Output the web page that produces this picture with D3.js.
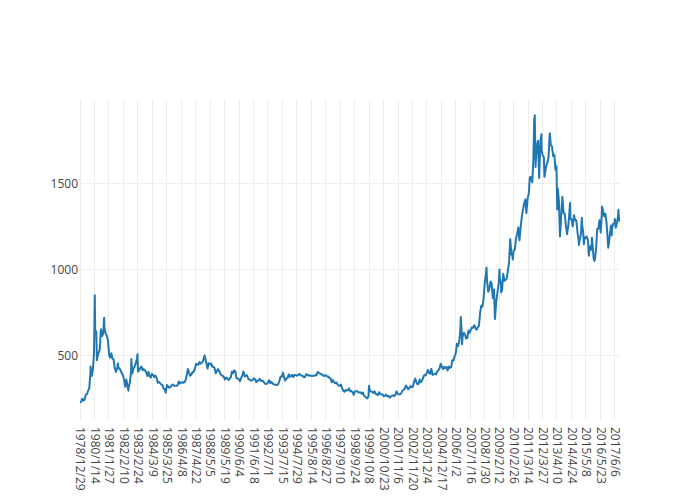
<!DOCTYPE html>
<html><head><meta charset="utf-8">
<script src="https://cdn.jsdelivr.net/npm/d3@7"></script>
<style>body{margin:0;background:#fff}text{font-family:"Open Sans",sans-serif}</style>
</head><body><svg id="chart" width="700" height="500"></svg>
<script>
const tickLabels = ["1978/12/29","1980/1/14","1981/1/27","1982/2/10","1983/2/24","1984/3/9","1985/3/25","1986/4/8","1987/4/22","1988/5/5","1989/5/19","1990/6/4","1991/6/18","1992/7/1","1993/7/15","1994/7/29","1995/8/14","1996/8/27","1997/9/10","1998/9/24","1999/10/8","2000/10/23","2001/11/6","2002/11/20","2003/12/4","2004/12/17","2006/1/2","2007/1/16","2008/1/30","2009/2/12","2010/2/26","2011/3/14","2012/3/27","2013/4/10","2014/4/24","2015/5/8","2016/5/23","2017/6/6"];
const yTicks = [500, 1000, 1500];
const goldSeries = [
["1978-12-29",226],["1979-01-31",233.7],["1979-02-28",251.3],["1979-03-30",240.1],["1979-04-30",245.3],["1979-05-31",274.6],["1979-06-29",277.5],["1979-07-31",296.5],["1979-08-31",315.1],["1979-09-28",397.3],["1979-10-02",437],["1979-10-31",382],["1979-11-30",415.7],["1979-12-31",512],
["1980-01-21",850],["1980-01-31",653],["1980-02-29",637],["1980-03-18",474],["1980-03-31",494.5],["1980-04-30",518],["1980-05-30",535],["1980-06-30",653],["1980-07-31",614],["1980-08-29",631],["1980-09-22",720],["1980-09-30",666],["1980-10-31",629],["1980-11-28",619],["1980-12-31",589.75],
["1981-01-30",506.5],["1981-02-27",489],["1981-03-31",513.75],["1981-04-30",482.75],["1981-05-29",479.25],["1981-06-30",426],["1981-07-31",406],["1981-08-31",425],["1981-09-18",455],["1981-09-30",428.75],["1981-10-30",427],["1981-11-30",414.5],["1981-12-31",397.5],
["1982-01-29",387],["1982-02-26",362.6],["1982-03-31",320],["1982-04-30",361.25],["1982-05-28",325.25],["1982-06-21",297],["1982-06-30",317.5],["1982-07-30",342.9],["1982-08-31",411.5],["1982-09-07",481],["1982-09-30",397],["1982-10-29",423.25],["1982-11-30",436],["1982-12-31",456.9],
["1983-01-31",481],["1983-02-15",509],["1983-02-28",408.5],["1983-03-31",414.75],["1983-04-29",429.25],["1983-05-31",437.5],["1983-06-30",416],["1983-07-29",422],["1983-08-31",414.25],["1983-09-30",405],["1983-10-31",382],["1983-11-30",405],["1983-12-30",381.5],
["1984-01-31",373.75],["1984-02-29",394.25],["1984-03-30",388.5],["1984-04-30",375.8],["1984-05-31",384.25],["1984-06-29",373.75],["1984-07-31",342.4],["1984-08-31",348.25],["1984-09-28",341.15],["1984-10-31",333.25],["1984-11-30",329],["1984-12-31",309],
["1985-01-31",306.5],["1985-02-25",285],["1985-03-29",329.75],["1985-04-30",321.4],["1985-05-31",314],["1985-06-28",317.75],["1985-07-31",327.5],["1985-08-30",333.25],["1985-09-30",326.5],["1985-10-31",325.1],["1985-11-29",325.3],["1985-12-31",326.8],
["1986-01-31",350.5],["1986-02-28",338.15],["1986-03-31",344],["1986-04-30",345.75],["1986-05-30",343.2],["1986-06-30",345.75],["1986-07-31",357.5],["1986-08-29",384.7],["1986-09-30",423.2],["1986-10-31",401],["1986-11-28",383.5],["1986-12-31",391],
["1987-01-30",405.5],["1987-02-27",405.9],["1987-03-31",421.1],["1987-04-30",451.3],["1987-05-29",451],["1987-06-30",447.3],["1987-07-31",462.5],["1987-08-31",453.4],["1987-09-30",459.5],["1987-10-30",466.8],["1987-11-30",492.5],["1987-12-14",502],["1987-12-31",484.1],
["1988-01-29",458],["1988-02-29",426.15],["1988-03-31",456.95],["1988-04-29",449],["1988-05-31",455.5],["1988-06-30",436.55],["1988-07-29",436.8],["1988-08-31",427.75],["1988-09-30",397.7],["1988-10-31",412.4],["1988-11-30",422.6],["1988-12-30",410.15],
["1989-01-31",394],["1989-02-28",387],["1989-03-31",383.2],["1989-04-28",377.6],["1989-05-31",361.8],["1989-06-30",373],["1989-07-31",368.3],["1989-08-31",359.8],["1989-09-29",366.5],["1989-10-31",375.3],["1989-11-30",408.15],["1989-12-29",398.6],
["1990-01-31",415.1],["1990-02-28",407.7],["1990-03-30",368.5],["1990-04-30",367.75],["1990-05-31",363.05],["1990-06-29",352.2],["1990-07-31",372.3],["1990-08-31",387.75],["1990-09-28",408.35],["1990-10-31",379.5],["1990-11-30",384.85],["1990-12-31",386.2],
["1991-01-31",366],["1991-02-28",362.7],["1991-03-29",355.65],["1991-04-30",357.75],["1991-05-31",360.4],["1991-06-28",368.4],["1991-07-31",362.95],["1991-08-30",347.4],["1991-09-30",354.9],["1991-10-31",357.45],["1991-11-29",366.3],["1991-12-31",353.15],
["1992-01-31",354.1],["1992-02-28",353.1],["1992-03-31",341.7],["1992-04-30",336.4],["1992-05-29",337.5],["1992-06-30",343.4],["1992-07-31",357.8],["1992-08-31",340.2],["1992-09-30",349],["1992-10-30",339.25],["1992-11-30",334.2],["1992-12-31",333],
["1993-01-29",329.45],["1993-02-26",329.35],["1993-03-31",337.8],["1993-04-30",354.3],["1993-05-28",377.45],["1993-06-30",378.5],["1993-07-30",401.8],["1993-08-31",371.6],["1993-09-30",355.5],["1993-10-29",369.6],["1993-11-30",370.9],["1993-12-31",391.75],
["1994-01-31",377.9],["1994-02-28",381.6],["1994-03-31",389.2],["1994-04-29",376.45],["1994-05-31",387.6],["1994-06-30",388.25],["1994-07-29",384],["1994-08-31",385.75],["1994-09-30",394.85],["1994-10-31",389.1],["1994-11-30",383.1],["1994-12-30",383.25],
["1995-01-31",374.9],["1995-02-28",376.4],["1995-03-31",392],["1995-04-28",389.75],["1995-05-31",384.3],["1995-06-30",387.05],["1995-07-31",383.35],["1995-08-31",382.35],["1995-09-29",383.35],["1995-10-31",383.15],["1995-11-30",387.8],["1995-12-29",387],
["1996-01-31",405.55],["1996-02-29",400.65],["1996-03-29",396.35],["1996-04-30",391.5],["1996-05-31",390.6],["1996-06-28",382],["1996-07-31",385.3],["1996-08-30",386.45],["1996-09-30",379],["1996-10-31",379.5],["1996-11-29",371.3],["1996-12-31",369.25],
["1997-01-31",345.5],["1997-02-28",358.6],["1997-03-31",348.2],["1997-04-30",340.15],["1997-05-30",345.6],["1997-06-30",334.6],["1997-07-31",326.4],["1997-08-29",325.4],["1997-09-30",332.1],["1997-10-31",311.4],["1997-11-28",296.8],["1997-12-31",290.2],
["1998-01-30",301.3],["1998-02-27",297.4],["1998-03-31",301],["1998-04-30",310.7],["1998-05-29",293.6],["1998-06-30",296.3],["1998-07-31",288.9],["1998-08-31",273.4],["1998-09-30",293.85],["1998-10-30",292.3],["1998-11-30",294.7],["1998-12-31",287.8],
["1999-01-29",287.1],["1999-02-26",287.33],["1999-03-31",279.45],["1999-04-30",286.6],["1999-05-28",268.6],["1999-06-30",261.3],["1999-07-30",255.6],["1999-08-25",252.6],["1999-09-24",265.5],["1999-09-30",299],["1999-10-05",325.5],["1999-10-29",299.1],["1999-11-30",291.4],["1999-12-31",290.25],
["2000-01-31",283.3],["2000-02-29",293.65],["2000-03-31",278.4],["2000-04-28",275.1],["2000-05-31",272.25],["2000-06-30",288.15],["2000-07-31",276.75],["2000-08-31",277],["2000-09-29",273.65],["2000-10-31",264.5],["2000-11-30",269.1],["2000-12-29",274.45],
["2001-01-31",264.5],["2001-02-28",266.7],["2001-03-30",257.7],["2001-04-02",255.95],["2001-04-30",263.15],["2001-05-31",267.5],["2001-06-29",270.6],["2001-07-31",265.9],["2001-08-31",273],["2001-09-28",293.1],["2001-10-31",278.75],["2001-11-30",275.5],["2001-12-31",276.5],
["2002-01-31",282.3],["2002-02-28",296.85],["2002-03-28",301.4],["2002-04-30",308.2],["2002-05-31",326.6],["2002-06-28",318.5],["2002-07-31",304.65],["2002-08-30",312.8],["2002-09-30",323.7],["2002-10-31",316.9],["2002-11-29",319.05],["2002-12-31",347.2],
["2003-01-31",367.5],["2003-02-28",347.45],["2003-03-31",334.85],["2003-04-30",336.75],["2003-05-30",361.4],["2003-06-30",346],["2003-07-31",354.75],["2003-08-29",375.6],["2003-09-30",388],["2003-10-31",386.25],["2003-11-28",398.35],["2003-12-31",417.25],
["2004-01-30",399.75],["2004-02-27",395.85],["2004-03-31",423.7],["2004-04-30",388.5],["2004-05-31",393.25],["2004-06-30",395.8],["2004-07-30",391.4],["2004-08-31",407.25],["2004-09-30",415.65],["2004-10-29",425.55],["2004-11-30",453.4],["2004-12-31",435.6],
["2005-01-31",422.15],["2005-02-28",435.45],["2005-03-31",427.5],["2005-04-29",435.7],["2005-05-31",414.45],["2005-06-30",437.1],["2005-07-29",429],["2005-08-31",433.25],["2005-09-30",473.25],["2005-10-31",470.75],["2005-11-30",495.65],["2005-12-30",513],
["2006-01-31",568.75],["2006-02-28",556],["2006-03-31",582],["2006-04-28",644],["2006-05-12",725],["2006-05-31",653],["2006-06-14",567],["2006-06-30",613.5],["2006-07-31",632.5],["2006-08-31",623.5],["2006-09-29",599.25],["2006-10-31",603.75],["2006-11-30",646.7],["2006-12-29",632],
["2007-01-31",650.5],["2007-02-28",664.2],["2007-03-30",661.75],["2007-04-30",677],["2007-05-31",659.1],["2007-06-29",650.5],["2007-07-31",665.5],["2007-08-31",672],["2007-09-28",743],["2007-10-31",789.5],["2007-11-30",783.5],["2007-12-31",833.75],
["2008-01-31",923.25],["2008-02-29",971.5],["2008-03-17",1011],["2008-03-31",933.5],["2008-04-30",871],["2008-05-30",885.75],["2008-06-30",930.25],["2008-07-31",918],["2008-08-29",833],["2008-09-30",884.5],["2008-10-24",712.5],["2008-10-31",730.75],["2008-11-28",814.5],["2008-12-31",869.75],
["2009-01-30",919.5],["2009-02-20",1000],["2009-02-27",952],["2009-03-31",916.5],["2009-04-06",867],["2009-04-30",883.25],["2009-05-29",975.5],["2009-06-30",934.5],["2009-07-31",939],["2009-08-31",949.5],["2009-09-30",995.75],["2009-10-30",1040],["2009-11-30",1175.75],["2009-12-31",1087.5],
["2010-01-29",1078.5],["2010-02-05",1058],["2010-02-26",1109.5],["2010-03-31",1115.5],["2010-04-30",1179.25],["2010-05-31",1207.5],["2010-06-30",1244],["2010-07-30",1169],["2010-08-31",1246],["2010-09-30",1307],["2010-10-29",1346.75],["2010-11-30",1383.5],["2010-12-31",1405.5],
["2011-01-28",1327],["2011-02-28",1411],["2011-03-31",1439],["2011-04-29",1535.5],["2011-05-31",1536.5],["2011-06-30",1505.5],["2011-07-29",1628.5],["2011-08-22",1877],["2011-08-31",1813.5],["2011-09-05",1895],["2011-09-26",1595],["2011-09-30",1620],["2011-10-31",1722],["2011-11-30",1746],["2011-12-29",1531],
["2012-01-31",1744],["2012-02-28",1784],["2012-02-29",1696],["2012-03-30",1662.5],["2012-04-30",1651.25],["2012-05-16",1537],["2012-05-31",1558],["2012-06-29",1598.5],["2012-07-31",1622],["2012-08-31",1648.5],["2012-09-28",1776],["2012-10-05",1790],["2012-10-31",1719],["2012-11-30",1714.5],["2012-12-31",1657.5],
["2013-01-31",1664.75],["2013-02-28",1578.25],["2013-03-28",1598.25],["2013-04-15",1348],["2013-04-30",1469],["2013-05-31",1394.5],["2013-06-28",1192],["2013-07-31",1314.5],["2013-08-28",1420],["2013-09-30",1326.5],["2013-10-31",1324],["2013-11-29",1253],["2013-12-31",1204.5],
["2014-01-31",1251],["2014-02-28",1326.5],["2014-03-17",1385],["2014-03-31",1291.75],["2014-04-30",1288.5],["2014-05-30",1250.5],["2014-06-30",1315],["2014-07-31",1285.25],["2014-08-29",1285.75],["2014-09-30",1216.5],["2014-10-31",1164.25],["2014-11-07",1142],["2014-11-28",1175.5],["2014-12-31",1206],
["2015-01-22",1300],["2015-01-30",1260.25],["2015-02-27",1214],["2015-03-17",1147],["2015-03-31",1187],["2015-04-30",1180.25],["2015-05-29",1191.4],["2015-06-30",1171],["2015-07-24",1080],["2015-07-31",1098.4],["2015-08-31",1135],["2015-09-30",1114],["2015-10-15",1184],["2015-10-30",1142.35],["2015-11-30",1061.9],["2015-12-17",1049],["2015-12-31",1060],
["2016-01-29",1111.8],["2016-02-29",1234.9],["2016-03-31",1237],["2016-04-29",1285.65],["2016-05-31",1214.7],["2016-06-30",1320.75],["2016-07-06",1366],["2016-07-29",1342],["2016-08-31",1309.25],["2016-09-30",1322.5],["2016-10-31",1272],["2016-11-30",1178.1],["2016-12-15",1126],["2016-12-30",1145.9],
["2017-01-31",1212.8],["2017-02-28",1255.6],["2017-03-15",1198],["2017-03-31",1244.85],["2017-04-28",1266.45],["2017-05-31",1266.2],["2017-06-06",1293],["2017-06-30",1242.25],["2017-07-31",1267.55],["2017-08-31",1311.75],["2017-09-08",1346],["2017-09-29",1283.1],["2017-10-20",1280]
];

const W = 700, H = 500;
const margin = {left: 80, right: 80, top: 100, bottom: 80};
const parseDate = d3.timeParse("%Y-%m-%d");
const parseTick = d3.timeParse("%Y/%m/%d");
const data = goldSeries.map(([d, v]) => ({date: parseDate(d), value: v}));

const svg = d3.select("#chart");
const x = d3.scaleTime()
  .domain(d3.extent(data, d => d.date))
  .range([margin.left, W - margin.right]);
const y = d3.scaleLinear()
  .domain([127, 1983])
  .range([H - margin.bottom, margin.top]);

// vertical grid
const tickDates = tickLabels.map(t => parseTick(t));
svg.append("g").selectAll("line").data(tickDates).join("line")
  .attr("x1", d => x(d)).attr("x2", d => x(d))
  .attr("y1", margin.top).attr("y2", H - margin.bottom)
  .attr("stroke", "#eee").attr("stroke-width", 1)
  .attr("shape-rendering", "crispEdges");
// horizontal grid
svg.append("g").selectAll("line").data(yTicks).join("line")
  .attr("x1", margin.left).attr("x2", W - margin.right)
  .attr("y1", d => y(d)).attr("y2", d => y(d))
  .attr("stroke", "#eee").attr("stroke-width", 1)
  .attr("shape-rendering", "crispEdges");

// y axis labels
const yAxis = d3.axisLeft(y).tickValues(yTicks).tickSize(0).tickPadding(2).tickFormat(d3.format("d"));
const gy = svg.append("g").attr("transform", `translate(${margin.left},0)`).call(yAxis);
gy.select(".domain").remove();
gy.selectAll("text").attr("fill", "#444").style("font-size", "12px").style("font-family", '"Open Sans", sans-serif');

// x axis labels
const xAxis = d3.axisBottom(x).tickValues(tickDates).tickSize(0)
  .tickFormat((d, i) => tickLabels[i]);
const gx = svg.append("g").attr("transform", `translate(0,${H - margin.bottom})`).call(xAxis);
gx.select(".domain").remove();
gx.selectAll("text")
  .attr("fill", "#444").style("font-size", "12px").style("font-family", '"Open Sans", sans-serif')
  .attr("text-anchor", "start")
  .attr("x", 0).attr("y", 0).attr("dy", "0.35em")
  .attr("transform", "translate(0,7) rotate(90)");

// clip
svg.append("clipPath").attr("id", "clip").append("rect")
  .attr("x", margin.left).attr("y", margin.top)
  .attr("width", W - margin.left - margin.right).attr("height", H - margin.top - margin.bottom);

const line = d3.line().x(d => x(d.date)).y(d => y(d.value));
svg.append("path").datum(data)
  .attr("clip-path", "url(#clip)")
  .attr("fill", "none").attr("stroke", "#1f77b4").attr("stroke-width", 2)
  .attr("stroke-linejoin", "round")
  .attr("d", line);
</script></body></html>
